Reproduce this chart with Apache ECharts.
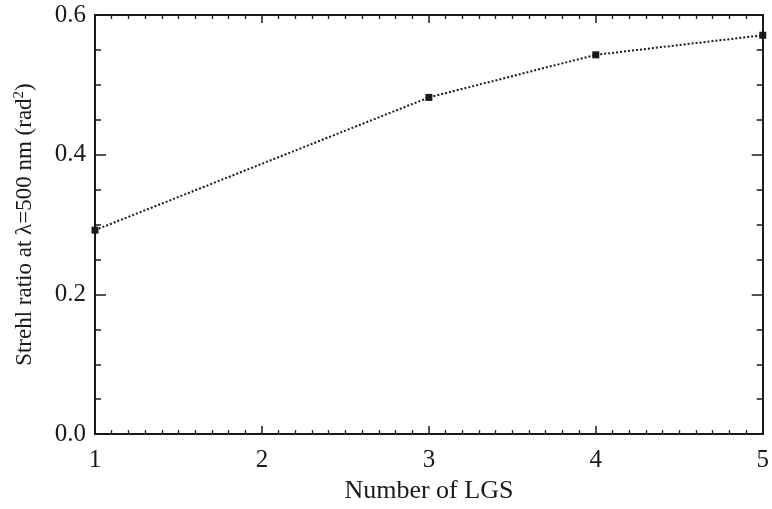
<!DOCTYPE html>
<html>
<head>
<meta charset="utf-8">
<script src="https://cdn.jsdelivr.net/npm/echarts@6/dist/echarts.min.js"></script>
<style>
  html, body { margin: 0; padding: 0; background: #fff; }
  #chart { width: 772px; height: 509px; }
</style>
</head>
<body>
<div id="chart"></div>
<script>
// Strehl ratio versus number of laser guide stars
const lgsCount = [1, 3, 4, 5];
const strehlRatio = [0.292, 0.482, 0.543, 0.571];
const xTicks = [1, 2, 3, 4, 5];
const yTicks = [0.0, 0.2, 0.4, 0.6];

const ink = '#1a1a1a';
const serif = '"Liberation Serif", "DejaVu Serif", serif';

const chart = echarts.init(document.getElementById('chart'));

function xFrame(pos, withLabels) {
  return {
    type: 'value', min: xTicks[0], max: xTicks[xTicks.length - 1], interval: 1,
    position: pos,
    axisLine: { show: true, onZero: false, lineStyle: { color: ink, width: 2 } },
    splitLine: { show: false },
    axisTick: { show: true, inside: true, length: 8, lineStyle: { color: ink, width: 1.5 } },
    minorTick: { show: true, splitNumber: 10, length: 4, lineStyle: { color: ink, width: 1.3 } },
    axisLabel: withLabels
      ? { color: ink, fontFamily: serif, fontSize: 25, margin: 14 }
      : { show: false }
  };
}

function yFrame(pos, withLabels) {
  return {
    type: 'value', min: yTicks[0], max: yTicks[yTicks.length - 1], interval: 0.2,
    position: pos,
    axisLine: { show: true, onZero: false, lineStyle: { color: ink, width: 2 } },
    splitLine: { show: false },
    axisTick: { show: true, inside: true, length: 11, lineStyle: { color: ink, width: 1.5 } },
    minorTick: { show: true, splitNumber: 4, length: 6, lineStyle: { color: ink, width: 1.5 } },
    axisLabel: withLabels
      ? { color: ink, fontFamily: serif, fontSize: 25, margin: 9, formatter: v => v.toFixed(1) }
      : { show: false }
  };
}

const xBottom = Object.assign(xFrame('bottom', true), {
  name: 'Number of LGS', nameLocation: 'middle', nameGap: 42,
  nameTextStyle: { color: ink, fontFamily: serif, fontSize: 26 }
});
const yLeft = Object.assign(yFrame('left', true), {
  name: '{a|Strehl ratio at λ=500 nm (rad}{s|2}{a|)}',
  nameLocation: 'middle', nameGap: 58, nameRotate: 90,
  nameTextStyle: {
    rich: {
      a: { color: ink, fontFamily: serif, fontSize: 23 },
      s: { color: ink, fontFamily: serif, fontSize: 15, verticalAlign: 'top', padding: [0, 0, 10, 0] }
    }
  }
});

chart.setOption({
  animation: false,
  backgroundColor: '#fff',
  grid: { left: 95, right: 8, top: 15, bottom: 70, containLabel: false },
  xAxis: [xBottom, xFrame('top', false)],
  yAxis: [yLeft, yFrame('right', false)],
  series: [{
    type: 'line',
    xAxisIndex: 0,
    yAxisIndex: 0,
    data: lgsCount.map((x, i) => [x, strehlRatio[i]]),
    symbol: 'rect',
    symbolSize: 7,
    showAllSymbol: true,
    clip: false,
    itemStyle: { color: ink },
    lineStyle: { color: ink, width: 2, type: [2, 2] }
  }]
});
</script>
</body>
</html>
